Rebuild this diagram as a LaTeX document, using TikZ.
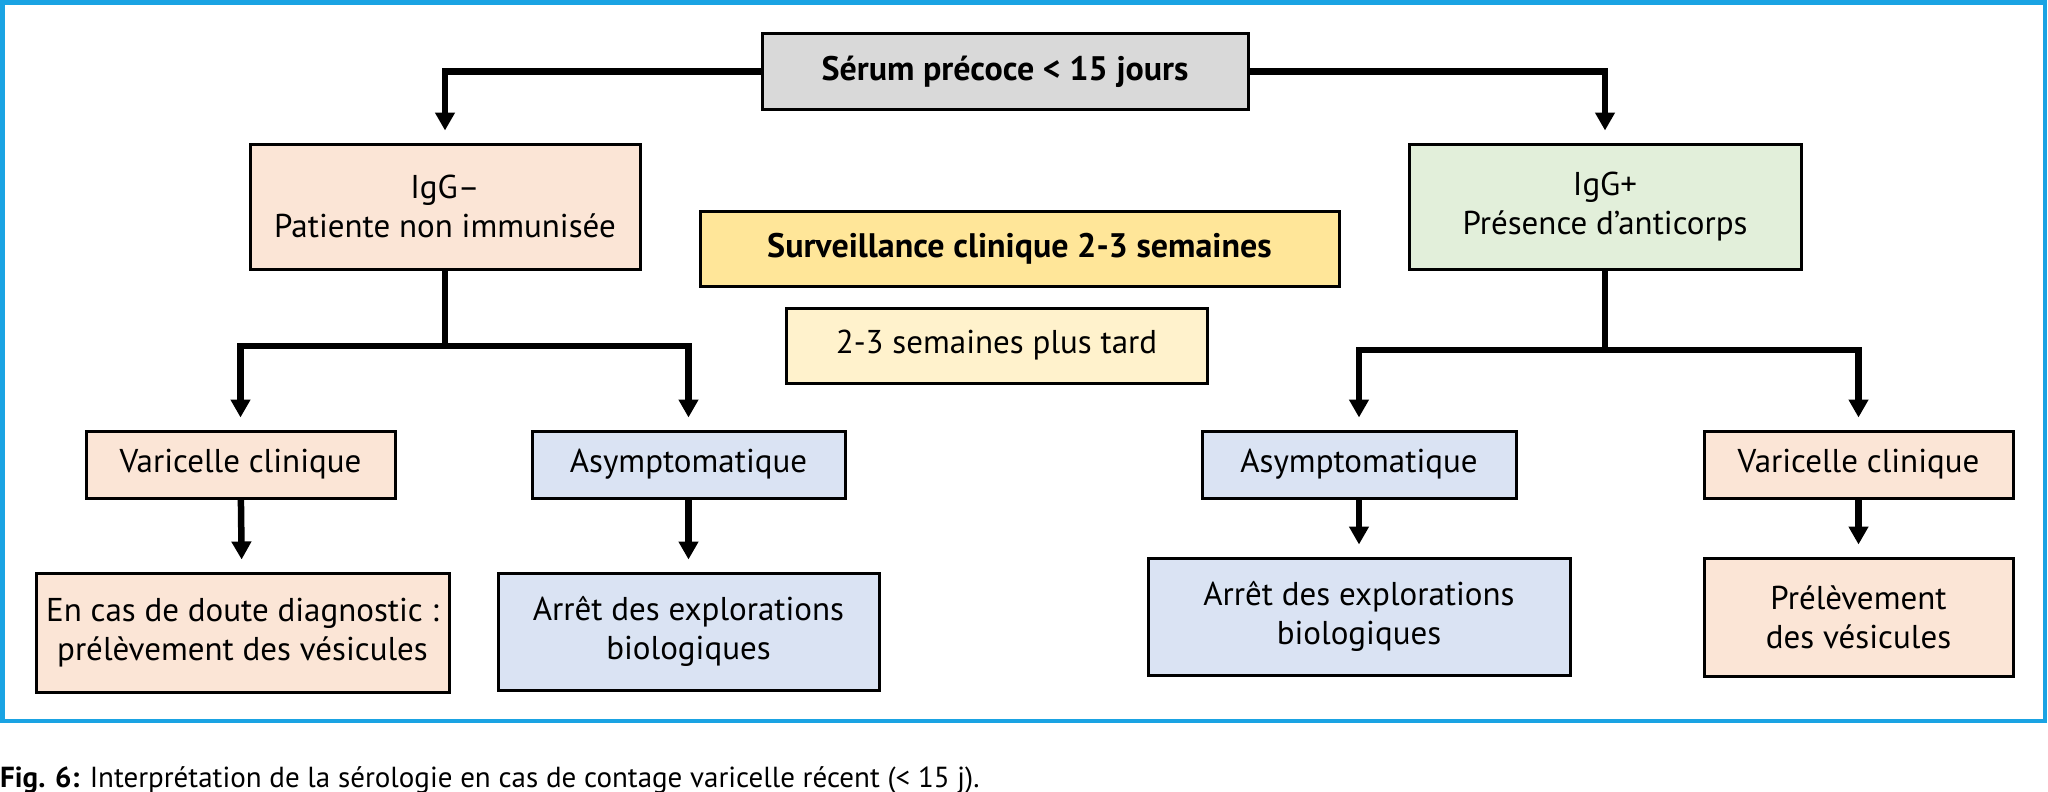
\documentclass[tikz,border=0pt]{standalone}
\usepackage{fontspec}
\setmainfont{PT Sans}
\usetikzlibrary{arrows.meta}
\definecolor{frameblue}{HTML}{1AA3E3}
\definecolor{serumgray}{HTML}{D9D9D9}
\definecolor{peach}{HTML}{FBE5D6}
\definecolor{mint}{HTML}{E2EFDA}
\definecolor{gold}{HTML}{FFE699}
\definecolor{cream}{HTML}{FFF2CC}
\definecolor{paleblue}{HTML}{DAE3F3}
\begin{document}
\begin{tikzpicture}[x=1pt, y=-1pt,
    box/.style={draw=black, line width=3pt, align=center, inner sep=0pt,
        font=\fontsize{33}{39}\selectfont},
    boldbox/.style={box, font=\fontsize{34}{39}\selectfont\bfseries},
    link/.style={line width=6.5pt},
    arr/.style={link, -{Triangle[width=19pt,length=18pt]}, shorten >=12pt}]
    \useasboundingbox (0,0) rectangle (2048,792);
    % Frame
    \draw[frameblue, line width=4.5pt] (2.5,2.3) rectangle (2045,721);
    % Boxes
    \node[boldbox, fill=serumgray, minimum width=486pt, minimum height=75pt] (serum) at (1005,71.5) {Sérum précoce < 15 jours};
    \node[box, fill=peach, minimum width=390pt, minimum height=125pt] (igneg) at (445,206.5) {IgG–\\Patiente non immunisée};
    \node[box, fill=mint, minimum width=392pt, minimum height=125pt] (igpos) at (1605,206.5) {IgG+\\Présence d’anticorps};
    \node[boldbox, fill=gold, minimum width=639pt, minimum height=75pt] (surv) at (1019.5,248.5) {Surveillance clinique 2-3 semaines};
    \node[box, fill=cream, minimum width=421pt, minimum height=75pt] (later) at (996.5,345.5) {2-3 semaines plus tard};
    \node[box, fill=peach, minimum width=309pt, minimum height=67pt] (varL) at (240.5,464.5) {Varicelle clinique};
    \node[box, fill=paleblue, minimum width=313pt, minimum height=67pt] (asymL) at (688.5,464.5) {Asymptomatique};
    \node[box, fill=peach, minimum width=413pt, minimum height=119pt] (doute) at (242.5,632.5) {En cas de doute diagnostic :\\prélèvement des vésicules};
    \node[box, fill=paleblue, minimum width=381pt, minimum height=117pt] (arretL) at (688.5,631.5) {Arrêt des explorations\\biologiques};
    \node[box, fill=paleblue, minimum width=314pt, minimum height=67pt] (asymR) at (1359,464.5) {Asymptomatique};
    \node[box, fill=peach, minimum width=309pt, minimum height=67pt] (varR) at (1858.5,464.5) {Varicelle clinique};
    \node[box, fill=paleblue, minimum width=422pt, minimum height=117pt] (arretR) at (1359,616.5) {Arrêt des explorations\\biologiques};
    \node[box, fill=peach, minimum width=309pt, minimum height=118pt] (prelev) at (1858.5,617) {Prélèvement\\des vésicules};
    % Split points
    \coordinate (splitL) at (445,346);
    \coordinate (splitR) at (1605,350);
    % Connectors
    \draw[arr] (serum.west) -| (igneg.north);
    \draw[arr] (serum.east) -| (igpos.north);
    \draw[link] (igneg.south) -- (splitL);
    \draw[arr] (splitL) -| (varL.north);
    \draw[arr] (splitL) -| (asymL.north);
    \draw[link] (igpos.south) -- (splitR);
    \draw[arr] (splitR) -| (asymR.north);
    \draw[arr] (splitR) -| (varR.north);
    \draw[arr] (varL) -- (doute);
    \draw[arr] (asymL) -- (arretL);
    \draw[arr] (asymR) -- (arretR);
    \draw[arr] (varR) -- (prelev);
    % Caption
    \node[anchor=base west, inner sep=0pt, font=\fontsize{29}{34}\selectfont] (caption) at (0,787)
        {\textbf{Fig. 6:} Interprétation de la sérologie en cas de contage varicelle récent (< 15 j).};
\end{tikzpicture}
\end{document}
